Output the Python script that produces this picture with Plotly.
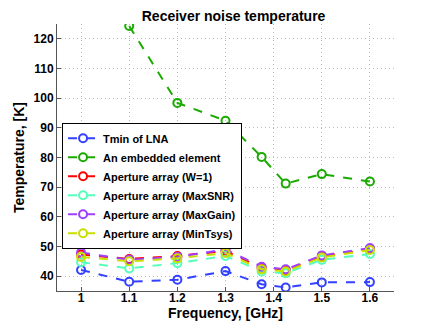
import plotly.graph_objects as go

freq = [1.0, 1.1, 1.2, 1.3, 1.375, 1.425, 1.5, 1.6]
freq_emb = [1.1, 1.2, 1.3, 1.375, 1.425, 1.5, 1.6]

t_lna = [42.1, 38.1, 38.8, 41.7, 37.3, 36.2, 37.9, 38.0]
t_embedded = [124.3, 98.4, 92.4, 80.2, 71.2, 74.4, 71.9]
t_w1 = [47.3, 45.8, 46.8, 48.5, 42.8, 42.0, 46.6, 49.2]
t_maxsnr = [44.7, 42.6, 44.4, 46.8, 41.6, 41.0, 45.5, 47.5]
t_maxgain = [48.0, 45.5, 46.5, 49.0, 43.2, 42.3, 47.0, 49.5]
t_mintsys = [46.5, 45.0, 46.0, 47.8, 42.3, 41.6, 46.3, 48.8]

series = [
    ("Tmin of LNA", freq, t_lna, "#3340ff"),
    ("An embedded element", freq_emb, t_embedded, "#1aaa00"),
    ("Aperture array (W=1)", freq, t_w1, "#ff0000"),
    ("Aperture array (MaxSNR)", freq, t_maxsnr, "#55ffbb"),
    ("Aperture array (MaxGain)", freq, t_maxgain, "#a040ff"),
    ("Aperture array (MinTsys)", freq, t_mintsys, "#c8e000"),
]

fig = go.Figure()
for name, x, y, c in series:
    fig.add_trace(go.Scatter(
        x=x, y=y, name=name, mode="lines+markers",
        line=dict(color=c, width=2, dash="dash"),
        marker=dict(symbol="circle-open", size=8, color=c, line=dict(width=2, color=c)),
    ))

fam = "Liberation Sans, Arial, sans-serif"
bold = dict(family=fam, size=12, color="black", weight="bold")

# page has an 8px body margin, so the figure is sized/placed to compensate
fig.update_layout(
    width=428, height=320,
    margin=dict(l=49, r=42, t=16, b=37),
    paper_bgcolor="white", plot_bgcolor="white",
    font=bold,
    title=dict(text="Receiver noise temperature", x=0.527, xanchor="center", y=0.976, yanchor="middle",
               font=dict(family=fam, size=14, color="black", weight="bold")),
    legend=dict(x=0.015, y=0.63, xanchor="left", yanchor="top",
                bgcolor="white", bordercolor="black", borderwidth=1,
                font=dict(family=fam, size=11, color="black", weight="bold"),
                tracegroupgap=0, itemwidth=30),
    showlegend=True,
)
grid = dict(showgrid=True, gridcolor="#bbbbbb", griddash="1px,3px", gridwidth=1,
            showline=True, linecolor="#555555", linewidth=1,
            ticks="inside", ticklen=4, tickcolor="#555555", zeroline=False, automargin=False)
fig.update_xaxes(
    range=[0.95, 1.65], tickvals=[1, 1.1, 1.2, 1.3, 1.4, 1.5, 1.6],
    ticktext=["1", "1.1", "1.2", "1.3", "1.4", "1.5", "1.6"],
    title=dict(text="Frequency, [GHz]", standoff=0),
    ticklabelstandoff=-4, **grid,
)
fig.update_yaxes(
    range=[35, 125], tickvals=[40, 50, 60, 70, 80, 90, 100, 110, 120],
    title=dict(text="Temperature, [K]", standoff=5),
    **grid,
)

fig.write_html("out.html")
